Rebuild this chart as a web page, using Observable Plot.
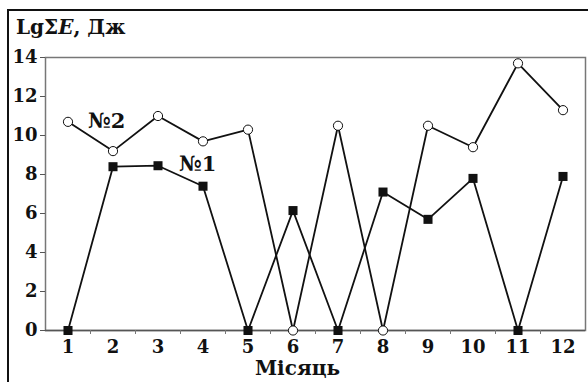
<!DOCTYPE html>
<html><head><meta charset="utf-8">
<script src="https://cdn.jsdelivr.net/npm/d3@7"></script>
<script src="https://cdn.jsdelivr.net/npm/@observablehq/plot@0.6"></script>
<style>
body{margin:0;background:#fff;}
#wrap{position:relative;width:588px;height:382px;overflow:hidden;}
#border{position:absolute;left:7px;top:9px;width:600px;height:400px;border-left:2px solid #111;border-top:2px solid #111;pointer-events:none;}
#ylab{position:absolute;left:16px;top:15px;font:bold 20px "DejaVu Serif",serif;color:#111;}
svg{font-family:"DejaVu Serif",serif;font-weight:bold;}
</style></head>
<body><div id="wrap"><div id="border"></div><div id="ylab">LgΣ<i>E</i>, Дж</div></div>
<script>
const months = [1,2,3,4,5,6,7,8,9,10,11,12];
const series2 = [10.7, 9.2, 11.0, 9.7, 10.3, 0, 10.5, 0, 10.5, 9.4, 13.7, 11.3];
const series1 = [0, 8.4, 8.45, 7.4, 0, 6.15, 0, 7.1, 5.7, 7.8, 0, 7.9];
const yTicks = [0,2,4,6,8,10,12,14];
const seriesLabels = [{t:"№2", x:1.86, y:10.75}, {t:"№1", x:3.88, y:8.55}];

const d2 = months.map((m,i)=>({m, v:series2[i]}));
const d1 = months.map((m,i)=>({m, v:series1[i]}));
const halfTicks = d3.range(1.5, 12.5, 1);

const chart = Plot.plot({
  width: 588, height: 382,
  marginLeft: 45, marginRight: 3, marginTop: 57, marginBottom: 52,
  x: {domain:[0.5,12.5]},
  y: {domain:[0,14]},
  style: {fontFamily:"DejaVu Serif, serif", fontWeight:"bold", background:"transparent"},
  marks: [
    Plot.frame({stroke:"#777", strokeWidth:1.5}),
    Plot.ruleY([0], {stroke:"#555", strokeWidth:1.5}),
    Plot.axisY({ticks:yTicks, tickSize:5, tickPadding:3, fontSize:18, fill:"#111", stroke:"#555", label:null}),
    Plot.axisX({ticks:halfTicks, tickSize:4, tickFormat:()=>"", stroke:"#777", label:null}),
    Plot.axisX({ticks:months, tickSize:0, tickPadding:10, fontSize:18, fill:"#111", label:null}),
    Plot.line(d2, {x:"m", y:"v", stroke:"#111", strokeWidth:1.8}),
    Plot.line(d1, {x:"m", y:"v", stroke:"#111", strokeWidth:1.8}),
    Plot.dot(d2, {x:"m", y:"v", r:4.6, fill:"white", stroke:"#111", strokeWidth:1}),
    Plot.dot(d1, {x:"m", y:"v", r:5.1, symbol:"square", fill:"#111", stroke:"none"}),
    Plot.text(seriesLabels, {x:"x", y:"y", text:"t", fontSize:21, fill:"#111", textAnchor:"middle"}),
    Plot.text(["Місяць"], {frameAnchor:"bottom", dx:-18, dy:44, text:d=>d, fontSize:20, fill:"#111"})
  ]
});
document.getElementById("wrap").prepend(chart);
</script></body></html>
